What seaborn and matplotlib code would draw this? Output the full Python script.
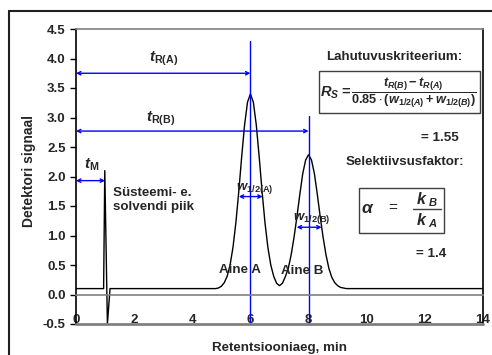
import matplotlib
matplotlib.use("Agg")
import matplotlib.pyplot as plt
from matplotlib.patches import Rectangle
import seaborn as sns
import pandas as pd

# chromatogram (time in min, detector signal)
time = [0.0, 0.95, 0.99, 1.08, 1.17, 4.8, 4.9, 5.0, 5.1, 5.2, 5.3, 5.4, 5.5, 5.6, 5.7,
        5.8, 5.9, 6.0, 6.1, 6.2, 6.3, 6.4, 6.5, 6.6, 6.7, 6.8, 6.9, 7.0, 7.1, 7.2,
        7.3, 7.4, 7.5, 7.6, 7.7, 7.8, 7.9, 8.0, 8.1, 8.2, 8.3, 8.4, 8.5, 8.6, 8.7,
        8.8, 8.9, 9.0, 9.1, 9.2, 9.3, 14.0]
signal = [0.10, 0.10, 2.10, -0.50, 0.10, 0.10, 0.11, 0.14, 0.20, 0.31, 0.50, 0.80, 1.22, 1.75, 2.34,
          2.88, 3.26, 3.40, 3.26, 2.88, 2.34, 1.75, 1.22, 0.80, 0.50, 0.31, 0.19, 0.15, 0.19, 0.30,
          0.44, 0.67, 0.97, 1.32, 1.70, 2.05, 2.28, 2.37, 2.28, 2.05, 1.70, 1.32, 0.97, 0.67, 0.44,
          0.29, 0.20, 0.15, 0.12, 0.11, 0.10, 0.10]

# retention times and half widths
t_m = 1.0
t_ra = 6.0
t_rb = 8.0
half_a = (5.6, 6.42)
half_b = (7.59, 8.45)
rs_value = "= 1.55"
alpha_value = "= 1.4"

xticks = [0, 2, 4, 6, 8, 10, 12, 14]
yticks = [-0.5, 0.0, 0.5, 1.0, 1.5, 2.0, 2.5, 3.0, 3.5, 4.0, 4.5]

df = pd.DataFrame({"time": time, "signal": signal})

sns.set_style("white")
plt.rcParams["font.family"] = ["Liberation Sans", "DejaVu Sans"]
plt.rcParams["font.weight"] = "bold"
plt.rcParams["mathtext.fontset"] = "custom"
plt.rcParams["mathtext.rm"] = "Liberation Sans:bold"
plt.rcParams["mathtext.it"] = "Liberation Sans:bold:italic"
plt.rcParams["mathtext.bf"] = "Liberation Sans:bold"

fig = plt.figure(figsize=(4.92, 3.55), dpi=100)
ax = fig.add_axes([76 / 492, 1 - 324 / 355, 407 / 492, 295 / 355])

sns.lineplot(data=df, x="time", y="signal", ax=ax, color="black", lw=1)

ax.set_xlim(0, 14)
ax.set_ylim(-0.5, 4.5)
ax.set_xlabel("")
ax.set_ylabel("")

# x axis crosses at 0
ax.spines["bottom"].set_position(("data", 0))
ax.spines["bottom"].set_color("#808080")
ax.spines["top"].set_color("#808080")
ax.spines["right"].set_color("black")
ax.spines["left"].set_color("black")
for s in ax.spines.values():
    s.set_linewidth(1.2)
ax.axhline(-0.5, color="#808080", lw=2, clip_on=False, zorder=3)

fs = 9.6
ax.set_xticks(xticks)
ax.set_xticklabels([str(v) for v in xticks], fontsize=9.5, fontweight="bold")
ax.set_yticks(yticks)
ax.set_yticklabels([f"{v:.1f}" for v in yticks], fontsize=9.5, fontweight="bold")
ax.tick_params(axis="x", direction="out", length=3, width=1, color="#808080", pad=11)
ax.tick_params(axis="y", direction="out", length=4.5, width=1, color="black", pad=3, left=True)

blue = "#0000ff"
ax.plot([t_ra, t_ra], [-0.5, 4.29], color=blue, lw=1)
ax.plot([t_rb, t_rb], [-0.5, 3.03], color=blue, lw=1)

def arrow(x0, x1, y):
    ax.annotate("", xy=(x1, y), xytext=(x0, y),
                arrowprops=dict(arrowstyle="<->", color=blue, lw=1,
                                mutation_scale=6, shrinkA=0, shrinkB=0))

arrow(0, t_ra, 3.75)
arrow(0, t_rb, 2.77)
arrow(0, t_m, 1.93)
arrow(half_a[0], half_a[1], 1.66)
arrow(half_b[0], half_b[1], 1.14)

ax.text(3.0, 4.0, r"$t_{\mathrm{R(A)}}$", ha="center", va="center", fontsize=11)
ax.text(2.9, 2.98, r"$t_{\mathrm{R(B)}}$", ha="center", va="center", fontsize=11)
ax.text(0.55, 2.19, r"$t_{\mathrm{M}}$", ha="center", va="center", fontsize=11)
ax.text(6.16, 1.8, r"$w_{\mathrm{1/2(A)}}$", ha="center", va="center", fontsize=9.5)
ax.text(8.1, 1.28, r"$w_{\mathrm{1/2(B)}}$", ha="center", va="center", fontsize=9.5)
ax.text(1.28, 1.6, "Süsteemi- e.\nsolvendi piik", ha="left", va="center",
        fontsize=fs, fontweight="bold", linespacing=1.15)
ax.text(5.64, 0.41, "Aine A", ha="center", va="center", fontsize=fs, fontweight="bold")
ax.text(7.78, 0.40, "Aine B", ha="center", va="center", fontsize=fs, fontweight="bold")

ax.text(10.94, 4.03, "Lahutuvuskriteerium:", ha="center", va="center", fontsize=fs, fontweight="bold")
ax.add_patch(Rectangle((8.36, 3.07), 5.54, 0.71, fill=False, ec="#404040", lw=1, zorder=4))
ax.text(8.94, 3.42, r"$R_S$ =", ha="center", va="center", fontsize=10.5)
ax.text(11.63, 3.42, r"$\dfrac{t_{R(B)} - t_{R(A)}}{0.85\cdot(w_{1/2(A)} + w_{1/2(B)})}$",
        ha="center", va="center", fontsize=9.2)
ax.text(12.5, 2.66, rs_value, ha="center", va="center", fontsize=fs, fontweight="bold")

ax.text(11.3, 2.24, "Selektiivsusfaktor:", ha="center", va="center", fontsize=fs, fontweight="bold")
ax.add_patch(Rectangle((9.73, 1.05), 2.93, 0.76, fill=False, ec="#404040", lw=1, zorder=4))
ax.text(10.05, 1.46, r"$\alpha$", ha="center", va="center", fontsize=12.5)
ax.text(10.9, 1.46, "=", ha="center", va="center", fontsize=11, fontweight="normal")
ax.plot([11.59, 12.55], [1.45, 1.45], color="#404040", lw=1)
ax.text(12.07, 1.6, r"$k_{\ B}$", ha="center", va="center", fontsize=11.5)
ax.text(12.07, 1.25, r"$k_{\ A}$", ha="center", va="center", fontsize=11.5)
ax.text(12.2, 0.68, alpha_value, ha="center", va="center", fontsize=fs, fontweight="bold")

fig.text(29 / 492, 1 - 171 / 355, "Detektori signaal", rotation=90, ha="center", va="center",
         fontsize=10, fontweight="bold")
fig.text(280 / 492, 1 - 348 / 355, "Retentsiooniaeg, min", ha="center", va="center",
         fontsize=fs, fontweight="bold")

# outer chart frame
fig.add_artist(Rectangle((9 / 492, -0.1), 1.2, 1.1 - 11 / 355, transform=fig.transFigure,
                         fill=False, ec="#202020", lw=1.5))

fig.savefig("out.png", dpi=100)
